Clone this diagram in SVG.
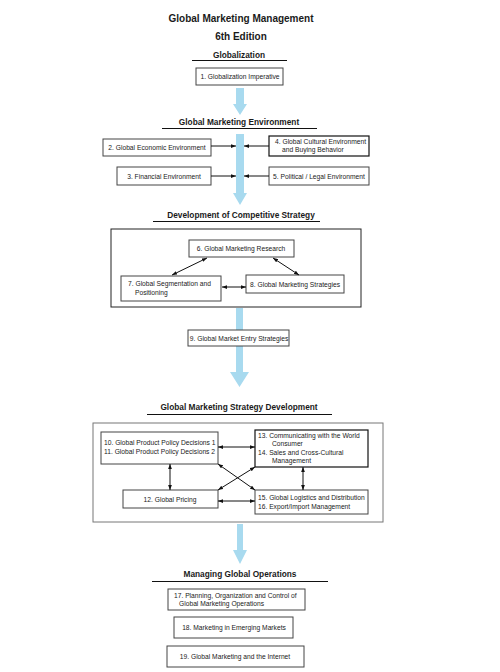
<svg xmlns="http://www.w3.org/2000/svg" width="500" height="672" viewBox="0 0 500 672">
<defs>
<marker id="ah" viewBox="0 0 8 6" refX="8" refY="3" markerWidth="5" markerHeight="4" markerUnits="userSpaceOnUse" orient="auto-start-reverse">
<path d="M0,0 L8,3 L0,6 z" fill="#111"/>
</marker>
</defs>
<style>
.t{font-family:"Liberation Sans",Arial,sans-serif;fill:#1a1a1a}
.title{font-size:10px;font-weight:bold}
.hd{font-size:8.3px;font-weight:bold}
.bx{font-size:6.7px}
.c{text-anchor:middle}
.box{fill:#fff;stroke:#444;stroke-width:1}
.dbox{fill:#fff;stroke:#111;stroke-width:1.2}
.ul{stroke:#111;stroke-width:1}
.con{stroke:#111;stroke-width:1;fill:none}
.blue{fill:#a8daef}
</style>
<rect width="500" height="672" fill="#fff"/>

<g id="title">
<text class="t title c" x="241" y="22">Global Marketing Management</text>
<text class="t title c" x="241" y="40">6th Edition</text>
</g>

<g id="flow-arrows">
<path class="blue" d="M236,88 H244 V104 H247 L240,115 L233,104 H236 Z"/>
<path class="blue" d="M236,134 H244 V193 H247 L240,205 L233,193 H236 Z"/>
<path class="blue" d="M236,308 H243 V372 H249 L239.5,387 L230,372 H236 Z"/>
<path class="blue" d="M237,524 H243 V550 H247 L240,564 L233,550 H237 Z"/>
</g>

<g id="sec-globalization">
<text class="t hd c" x="239" y="58">Globalization</text>
<line class="ul" x1="192" y1="60.5" x2="287" y2="60.5"/>
</g>
<g id="n1">
<rect class="box" x="196" y="68" width="87" height="17"/>
<text class="t bx c" x="240" y="79">1. Globalization Imperative</text>
</g>

<g id="sec-environment">
<text class="t hd c" x="239" y="125">Global Marketing Environment</text>
<line class="ul" x1="162" y1="128.5" x2="317" y2="128.5"/>
</g>
<g id="n2">
<rect class="box" x="103" y="139" width="108" height="17"/>
<text class="t bx c" x="157" y="150">2. Global Economic Environment</text>
</g>
<g id="n3">
<rect class="box" x="117" y="167" width="94" height="18"/>
<text class="t bx c" x="164" y="178.5">3. Financial Environment</text>
</g>
<g id="n4">
<rect class="dbox" x="269" y="136" width="100" height="20"/>
<text class="t bx" x="275" y="144">4. Global Cultural Environment</text>
<text class="t bx" x="282" y="152">and Buying Behavior</text>
</g>
<g id="n5">
<rect class="box" x="269" y="167" width="100" height="18"/>
<text class="t bx c" x="319" y="178.5">5. Political / Legal Environment</text>
</g>

<g id="sec-competitive">
<text class="t hd c" x="241" y="218">Development of Competitive Strategy</text>
<line class="ul" x1="153" y1="221.5" x2="320" y2="221.5"/>
<rect x="111" y="229" width="250" height="78" fill="none" stroke="#222" stroke-width="1"/>
</g>
<g id="n6">
<rect class="box" x="189" y="240" width="105" height="17"/>
<text class="t bx c" x="241" y="251">6. Global Marketing Research</text>
</g>
<g id="n7">
<rect class="box" x="121" y="276" width="100" height="25"/>
<text class="t bx" x="128" y="286">7. Global Segmentation and</text>
<text class="t bx" x="135" y="295">Positioning</text>
</g>
<g id="n8">
<rect class="box" x="246" y="275" width="98" height="18"/>
<text class="t bx c" x="295" y="286.5">8. Global Marketing Strategies</text>
</g>
<g id="n9">
<rect class="box" x="188" y="330" width="101" height="16"/>
<text class="t bx c" x="239" y="340.5">9. Global Market Entry Strategies</text>
</g>

<g id="sec-strategy">
<text class="t hd c" x="239" y="410">Global Marketing Strategy Development</text>
<line class="ul" x1="147" y1="414.5" x2="332" y2="414.5"/>
<rect x="93" y="423" width="290" height="99" fill="none" stroke="#777" stroke-width="1"/>
</g>
<g id="n10">
<rect class="box" x="101" y="432" width="117" height="32"/>
<text class="t bx" x="104" y="445">10. Global Product Policy Decisions 1</text>
<text class="t bx" x="104" y="454">11. Global Product Policy Decisions 2</text>
</g>
<g id="n12">
<rect class="box" x="123" y="490" width="95" height="18"/>
<text class="t bx c" x="170" y="501.5">12. Global Pricing</text>
</g>
<g id="n13">
<rect class="dbox" x="255" y="430" width="113" height="37"/>
<text class="t bx" x="258" y="438">13. Communicating with the World</text>
<text class="t bx" x="272" y="446">Consumer</text>
<text class="t bx" x="258" y="455">14. Sales and Cross-Cultural</text>
<text class="t bx" x="272" y="463">Management</text>
</g>
<g id="n15">
<rect class="box" x="255" y="490" width="113" height="24"/>
<text class="t bx" x="258" y="500">15. Global Logistics and Distribution</text>
<text class="t bx" x="258" y="509">16. Export/Import Management</text>
</g>

<g id="sec-operations">
<text class="t hd c" x="240" y="577">Managing Global Operations</text>
<line class="ul" x1="152" y1="581.5" x2="328" y2="581.5"/>
</g>
<g id="n17">
<rect class="box" x="168" y="589" width="137" height="21"/>
<text class="t bx" x="174" y="598">17. Planning, Organization and Control of</text>
<text class="t bx" x="179" y="606">Global Marketing Operations</text>
</g>
<g id="n18">
<rect class="box" x="174" y="617" width="119" height="21"/>
<text class="t bx c" x="234" y="629.5">18. Marketing in Emerging Markets</text>
</g>
<g id="n19">
<rect class="box" x="167" y="646" width="137" height="21"/>
<text class="t bx c" x="235" y="658.5">19. Global Marketing and the Internet</text>
</g>

<g id="connectors">
<line class="con" x1="211" y1="146" x2="236" y2="146" marker-end="url(#ah)"/>
<line class="con" x1="269" y1="146" x2="244" y2="146" marker-end="url(#ah)"/>
<line class="con" x1="211" y1="176" x2="236" y2="176" marker-end="url(#ah)"/>
<line class="con" x1="269" y1="176" x2="244" y2="176" marker-end="url(#ah)"/>
<line class="con" x1="207" y1="258" x2="172" y2="275" marker-start="url(#ah)" marker-end="url(#ah)"/>
<line class="con" x1="273" y1="258" x2="299" y2="275" marker-start="url(#ah)" marker-end="url(#ah)"/>
<line class="con" x1="222" y1="287" x2="246" y2="287" marker-start="url(#ah)" marker-end="url(#ah)"/>
<line class="con" x1="218" y1="447" x2="255" y2="447" marker-start="url(#ah)" marker-end="url(#ah)"/>
<line class="con" x1="218" y1="501" x2="255" y2="501" marker-start="url(#ah)" marker-end="url(#ah)"/>
<line class="con" x1="170" y1="464" x2="170" y2="490" marker-start="url(#ah)" marker-end="url(#ah)"/>
<line class="con" x1="303" y1="467" x2="303" y2="490" marker-start="url(#ah)" marker-end="url(#ah)"/>
<line class="con" x1="218" y1="464" x2="255" y2="490" marker-start="url(#ah)" marker-end="url(#ah)"/>
<line class="con" x1="218" y1="490" x2="255" y2="467" marker-start="url(#ah)" marker-end="url(#ah)"/>
</g>
</svg>
